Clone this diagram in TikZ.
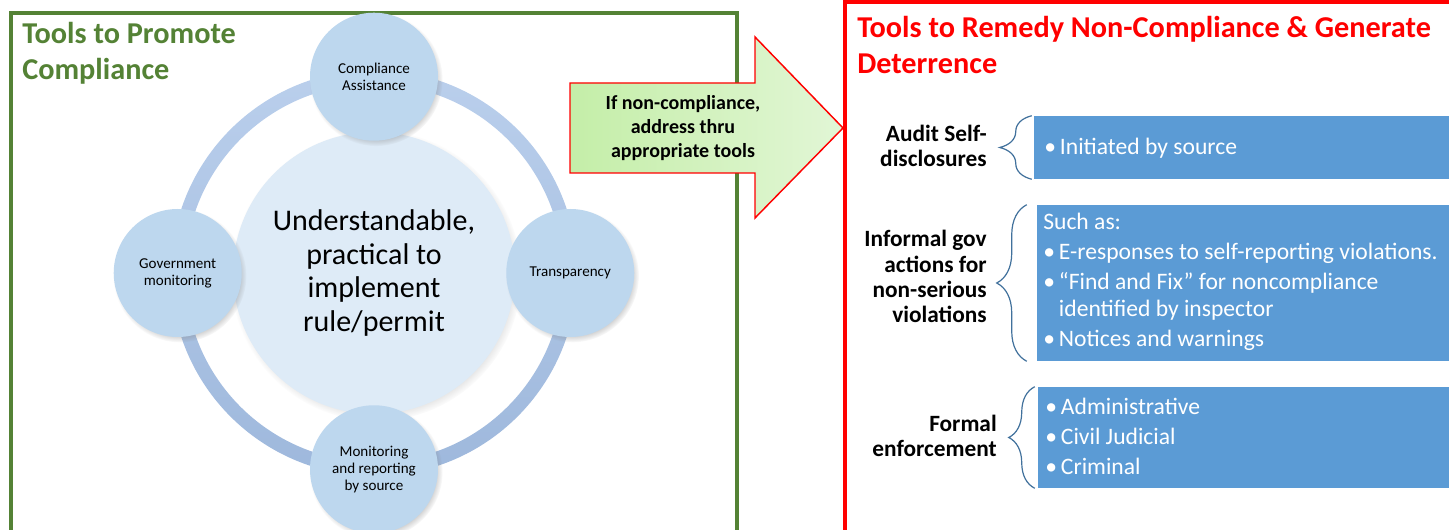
\documentclass[tikz,border=0pt]{standalone}
\usepackage{fontspec}
\setmainfont{Carlito}
\usetikzlibrary{positioning,shadows,fit,decorations.pathreplacing}

\definecolor{promogreen}{RGB}{84,130,53}
\definecolor{ringtop}{RGB}{186,207,236}
\definecolor{ringbot}{RGB}{158,184,220}
\definecolor{hubfill}{RGB}{222,235,247}
\definecolor{satfill}{RGB}{189,215,238}
\definecolor{arrowdark}{RGB}{196,238,168}
\definecolor{arrowlight}{RGB}{226,246,214}
\definecolor{toolblue}{RGB}{91,155,213}
\definecolor{bracecol}{RGB}{65,113,156}

\begin{document}
\begin{tikzpicture}[x=0.75pt,y=-0.75pt,
  ttl/.style={anchor=base west,align=left,inner sep=0pt,
    font=\bfseries\fontsize{22.7}{27.5}\selectfont},
  ring/.style={top color=ringtop,bottom color=ringbot,even odd rule},
  hub/.style={circle,fill=hubfill,minimum size=211.5pt,inner sep=0pt,align=center,
    font=\fontsize{22.5}{25.3}\selectfont,
    circular drop shadow={shadow xshift=1.5pt,shadow yshift=-2pt,shadow scale=1.03,opacity=.45}},
  sat/.style={circle,fill=satfill,minimum size=96pt,inner sep=0pt,align=center,
    font=\fontsize{11.3}{12.75}\selectfont,
    circular drop shadow={shadow xshift=1.5pt,shadow yshift=-2pt,shadow scale=1.04,opacity=.5}},
  arrowtxt/.style={anchor=base,align=center,inner sep=0pt,
    font=\bfseries\fontsize{15}{18}\selectfont},
  toolbox/.style={fill=toolblue,inner sep=0pt},
  boxtxt/.style={anchor=base west,align=left,inner sep=0pt,text=white,
    font=\fontsize{17.7}{20.25}\selectfont},
  lbl/.style={anchor=base east,align=right,inner sep=0pt,
    font=\bfseries\fontsize{17.5}{19}\selectfont},
  tbrace/.style={draw=bracecol,line width=0.9pt,decorate,
    decoration={brace,amplitude=#1}}]

\clip (0,0) rectangle (1449,530);
\fill[white] (0,0) rectangle (1449,530);

% left panel
\draw[promogreen,line width=2.4pt] (11,13) rectangle (737,560);
\node[ttl,text=promogreen] (promo) at (22,80) {Tools to Promote\\Compliance};

\coordinate (c) at (374,273);
\shade[ring] (c) circle (203) circle (189);
\node[hub] (hub) at (c) {Understandable,\\practical to\\implement\\rule/permit};

\node[sat,above=99pt of c] (assist) {Compliance\\Assistance};
\node[sat,left=99pt of c] (govmon) {Government\\monitoring};
\node[sat,right=99pt of c] (transp) {Transparency};
\node[sat,below=99pt of c] (srcmon) {Monitoring\\and reporting\\by source};

% the arrow between the panels
\path[draw=red,line width=1.1pt,left color=arrowdark,right color=arrowlight]
  (570,83) -- (755,83) -- (755,37) -- (843,128) -- (755,218) -- (755,173) -- (570,173) -- cycle;
\node[arrowtxt] (ifnon) at (683,158) {If non-compliance,\\address thru\\appropriate tools};

% right panel
\draw[red,line width=2.4pt] (845,2) rectangle (1470,560);
\node[ttl,text=red] (remedy) at (857,74) {Tools to Remedy Non-Compliance \& Generate\\Deterrence};

\node[toolbox,fit={(1034,116) (1460,179)}] (selfbox) {};
\node[toolbox,fit={(1037,205) (1460,361)}] (infbox) {};
\node[toolbox,fit={(1038,387) (1460,488)}] (formbox) {};

\node[boxtxt] (selftxt) at (1044,155) {\textbullet\,Initiated by source};
\node[boxtxt] (inftxt) at (1043,347) {Such as:\\[2.25pt]
  \textbullet\,E-responses to self-reporting violations.\\[2.25pt]
  \textbullet\,“Find and Fix” for noncompliance\\
  \phantom{\textbullet\,}identified by inspector\\[2.25pt]
  \textbullet\,Notices and warnings};
\node[boxtxt] (formtxt) at (1045,475) {\textbullet\,Administrative\\[2.25pt]
  \textbullet\,Civil Judicial\\[2.25pt]
  \textbullet\,Criminal};

\draw[tbrace=24pt] ([xshift=-1.5pt]selfbox.south west) -- ([xshift=-1.5pt]selfbox.north west);
\draw[tbrace=22.5pt] ([xshift=-7.5pt]infbox.south west) -- ([xshift=-7.5pt]infbox.north west);
\draw[tbrace=19.5pt] ([xshift=-2.25pt]formbox.south west) -- ([xshift=-2.25pt]formbox.north west);

\node[lbl] (audit) at (987,167) {Audit Self-\\disclosures};
\node[lbl] (informal) at (987,323) {Informal gov\\actions for\\non-serious\\violations};
\node[lbl] (formal) at (997,457) {Formal\\enforcement};

\end{tikzpicture}
\end{document}
